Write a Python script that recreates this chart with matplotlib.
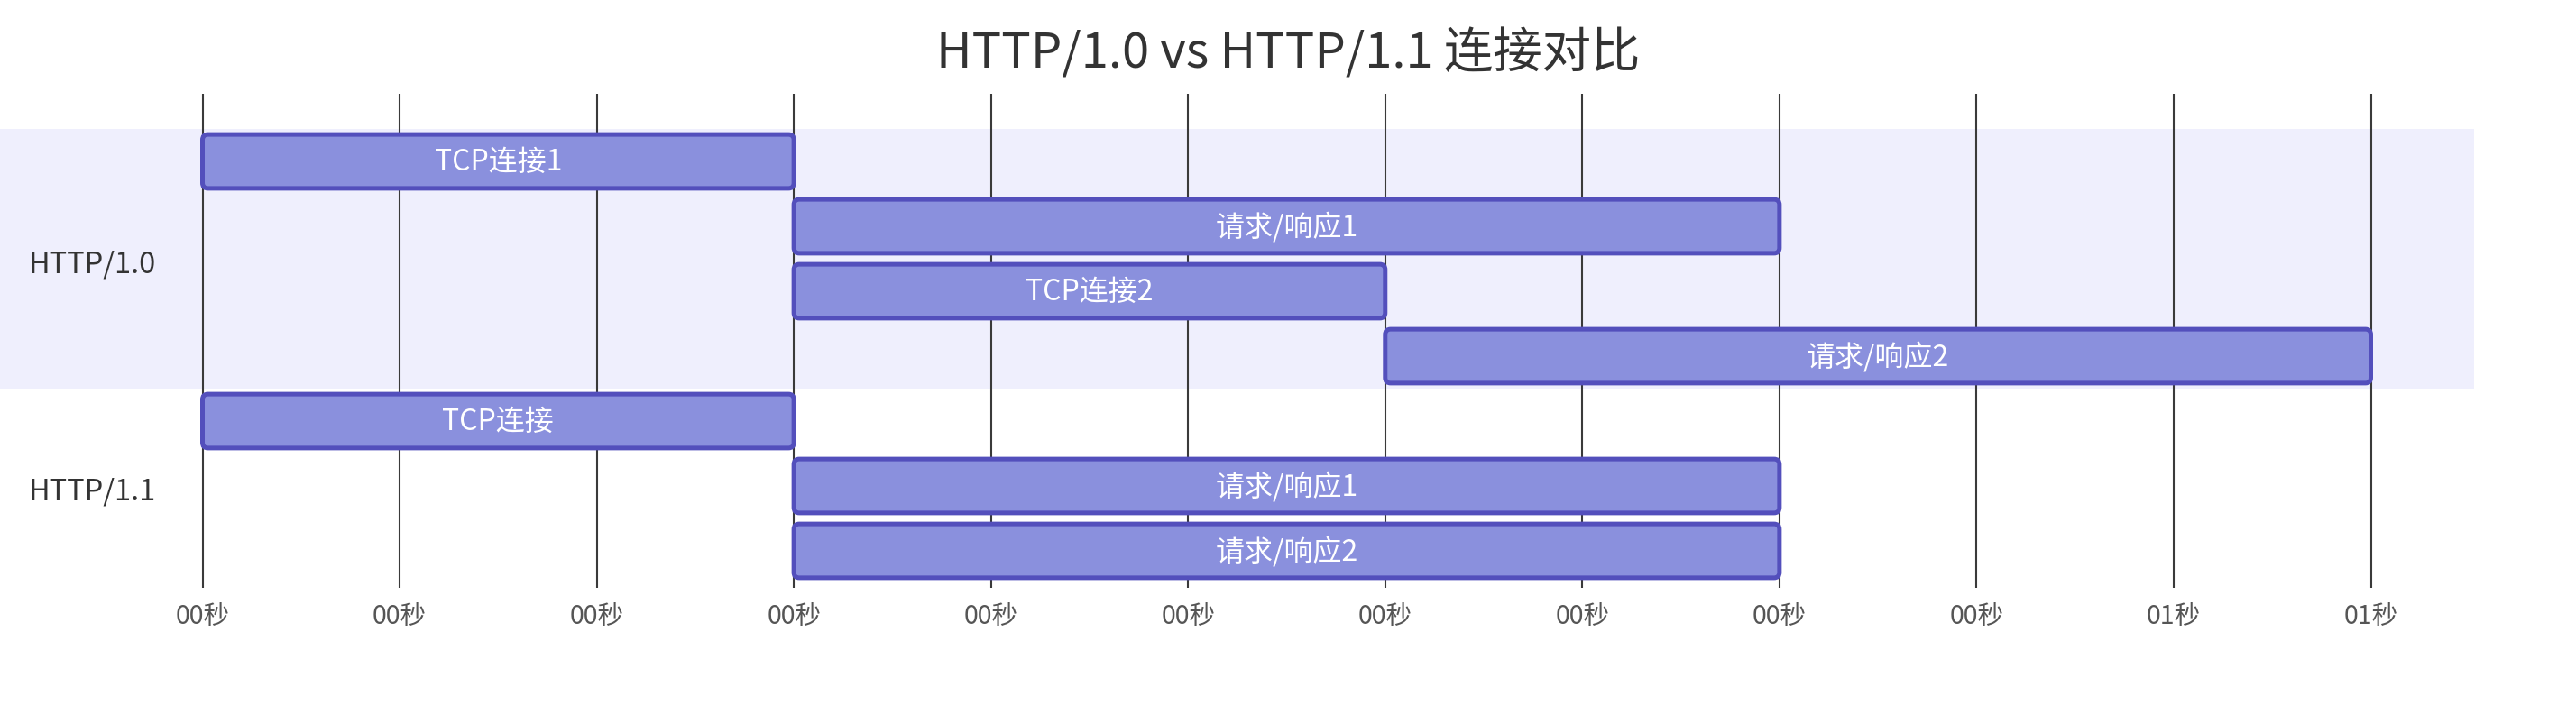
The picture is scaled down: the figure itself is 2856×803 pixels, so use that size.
import matplotlib
matplotlib.use('Agg')
import matplotlib.pyplot as plt
from matplotlib.patches import FancyBboxPatch, Rectangle
from matplotlib.transforms import blended_transform_factory

plt.rcParams['font.family'] = ['Noto Sans CJK SC', 'DejaVu Sans']

# ---------------- data ----------------
title = "HTTP/1.0 vs HTTP/1.1 连接对比"
sections = ["HTTP/1.0", "HTTP/1.1"]
task_names = ["TCP连接1", "请求/响应1", "TCP连接2", "请求/响应2",
              "TCP连接", "请求/响应1", "请求/响应2"]
task_section = [0, 0, 0, 0, 1, 1, 1]
task_start_ms = [0, 300, 300, 600, 0, 300, 300]
task_end_ms = [300, 800, 600, 1100, 300, 800, 800]
tick_values_ms = [0, 100, 200, 300, 400, 500, 600, 700, 800, 900, 1000, 1100]
tick_labels = ["00秒", "00秒", "00秒", "00秒", "00秒", "00秒", "00秒",
               "00秒", "00秒", "00秒", "01秒", "01秒"]

# ---------------- layout ----------------
W, H = 2856, 804
fig = plt.figure(figsize=(W / 100, H / 100), dpi=100)
ax = fig.add_axes([0, 0, 1, 1])
ax.set_axis_off()

x0_px, x1_px = 224.5, 2628.5          # pixel position of 0 ms and 1100 ms
ppm = (x1_px - x0_px) / (tick_values_ms[-1] - tick_values_ms[0])
row0_px, row_px = 180.0, 72.0          # centre of first row, row spacing
ax.set_xlim(-x0_px / ppm, (W - x0_px) / ppm)
ax.set_ylim((H - row0_px) / row_px, -row0_px / row_px)

def px2x(p):
    return (p - x0_px) / ppm

band_colors = ["#EFEFFD", "#FFFFFF"]
bar_fill = "#8A90DD"
bar_edge = "#534FBC"
label_tr = blended_transform_factory(ax.transAxes, ax.transData)

# section bands
n_rows = len(task_names)
for s, name in enumerate(sections):
    rows = [i for i in range(n_rows) if task_section[i] == s]
    top, bot = min(rows) - 0.5, max(rows) + 0.5
    ax.add_patch(Rectangle((px2x(0), top), px2x(2743) - px2x(0), bot - top,
                           facecolor=band_colors[s % 2], edgecolor='none', zorder=0))
    ax.text(32 / W, (min(rows) + max(rows)) / 2 + 0.07, name, transform=label_tr,
            ha='left', va='center', fontsize=23.5, color='#333333', zorder=5)

# grid lines + tick labels
grid_top = -1.04
grid_bot = 6.57
ax.vlines(tick_values_ms, grid_top, grid_bot, colors='#3a3a3a', linewidth=1.5, zorder=1)
for v, lab in zip(tick_values_ms, tick_labels):
    ax.text(v, 7.0, lab, ha='center', va='center', fontsize=20.5, color='#555555', zorder=5)

# bars
bar_h = 0.83
aspect = ppm / row_px
for i, (name, s0, s1) in enumerate(zip(task_names, task_start_ms, task_end_ms)):
    patch = FancyBboxPatch((s0, i - bar_h / 2), s1 - s0, bar_h,
                           boxstyle="round,pad=0,rounding_size=%f" % (6.0 / ppm),
                           mutation_aspect=aspect,
                           facecolor=bar_fill, edgecolor=bar_edge, linewidth=3.6, zorder=3)
    ax.add_patch(patch)
    ax.text((s0 + s1) / 2, i, name, ha='center', va='center', fontsize=23,
            color='white', zorder=4)

fig.text(1428 / W, 1 - 59 / H, title, ha='center', va='center',
         fontsize=39.2, color='#333333')

fig.savefig('out.png', dpi=100, facecolor='white')
